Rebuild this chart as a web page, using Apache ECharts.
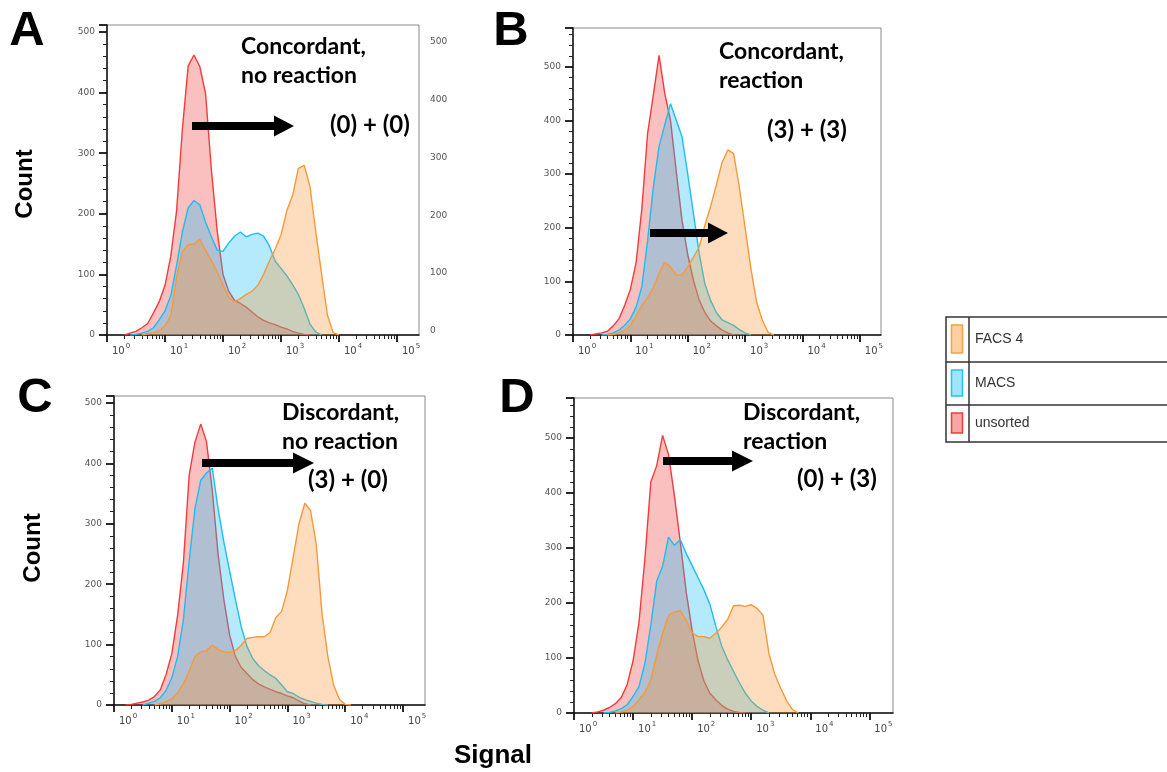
<!DOCTYPE html>
<html><head><meta charset="utf-8">
<script src="https://cdn.jsdelivr.net/npm/echarts@6/dist/echarts.min.js"></script>
<style>html,body{margin:0;padding:0;background:#fff}#c{width:1167px;height:772px}</style>
</head><body><div id="c"></div>
<script>
// ---------------- DATA ----------------
// x positions: log10(Signal)
const logSignal = [0.2,0.3,0.4,0.5,0.6,0.7,0.8,0.9,1.0,1.1,1.2,1.3,1.4,1.5,1.6,1.7,1.8,1.9,2.0,2.1,2.2,2.3,2.4,2.5,2.6,2.7,2.8,2.9,3.0,3.1,3.2,3.3,3.4,3.5,3.6,3.7,3.8,3.9,4.0,4.1,4.2];
const seriesNames = ['unsorted', 'MACS', 'FACS 4'];
const legendOrder = ['FACS 4', 'MACS', 'unsorted'];

const unsortedA = [0,0,3,6,12,19,36,55,82,130,205,340,444,462,443,398,272,172,100,72,57,52,46,38,30,24,20,17,13,10,6,3,1,0,0,0,0,0,0,0,0];
const macsA     = [0,0,0,1,3,6,12,25,40,65,115,170,210,222,215,186,162,140,138,152,163,170,162,166,168,163,147,122,110,98,83,67,44,18,5,0,0,0,0,0,0];
const facsA     = [0,0,0,0,0,2,4,7,15,32,95,138,149,150,158,140,122,105,82,62,55,60,67,72,82,100,122,142,165,205,230,275,280,245,170,101,33,4,0,0,0];

const unsortedB = [0,0,2,4,7,17,30,55,85,135,235,375,447,521,450,400,305,214,150,102,65,42,26,17,9,4,0,0,0,0,0,0,0,0,0,0,0,0,0,0,0];
const macsB     = [0,0,0,0,1,4,9,18,30,52,90,175,275,351,392,431,400,370,300,226,152,95,64,42,28,23,18,10,4,0,0,0,0,0,0,0,0,0,0,0,0];
const facsB     = [0,0,0,0,0,1,4,9,18,35,55,70,88,115,136,127,112,112,127,145,164,205,240,280,322,345,338,275,200,125,62,28,5,0,0,0,0,0,0,0,0];

const unsortedC = [0,1,3,5,8,14,25,50,85,148,235,380,435,465,436,355,250,175,116,80,62,52,42,35,30,26,22,19,15,12,7,2,0,0,0,0,0,0,0,0,0];
const macsC     = [0,0,0,0,3,6,12,24,45,80,141,238,325,372,384,392,325,270,222,175,130,97,77,65,57,50,44,33,22,19,13,9,6,3,1,0,0,0,0,0,0];
const facsC     = [0,0,0,0,0,0,2,5,10,20,35,56,80,88,90,99,92,88,87,90,99,110,112,113,113,120,145,155,190,245,300,334,322,265,150,80,33,9,1,0,0];

const unsortedD = [0,0,2,5,10,17,28,52,95,165,280,420,450,505,470,395,310,220,150,95,58,36,24,14,7,3,1,0,0,0,0,0,0,0,0,0,0,0,0,0,0];
const macsD     = [0,0,0,0,1,4,8,15,30,48,90,160,240,267,320,305,315,290,268,246,224,198,158,122,97,76,55,36,22,12,5,0,0,0,0,0,0,0,0,0,0];
const facsD     = [0,0,0,0,0,0,2,5,12,24,37,60,105,145,178,184,186,168,146,139,139,136,145,156,170,195,196,194,197,190,178,108,70,45,22,6,0,0,0,0,0];

const xTickExponents = [0,1,2,3,4,5];
const yTickValues = [0,100,200,300,400,500];
const panelLetters = ['A','B','C','D'];
const panelTitles = ['Concordant,\nno reaction','Concordant,\nreaction','Discordant,\nno reaction','Discordant,\nreaction'];
const panelScores = ['(0) + (0)','(3) + (3)','(3) + (0)','(0) + (3)'];
const yAxisTitle = 'Count';
const xAxisTitle = 'Signal';

const panelData = [
  [unsortedA, macsA, facsA],
  [unsortedB, macsB, facsB],
  [unsortedC, macsC, facsC],
  [unsortedD, macsD, facsD]
];

// ---------------- LAYOUT / STYLE ----------------
const layout = [
  {left:107, top:25,  width:312, height:310, yMax:511.5, xMax:5.38},
  {left:573, top:28,  width:308, height:307, yMax:572,   xMax:5.37},
  {left:114, top:396, width:311, height:309, yMax:511.5, xMax:5.38},
  {left:574, top:398, width:319, height:315, yMax:573,   xMax:5.40}
];
const lineColors = ['#f03c3c', '#1ebdf0', '#f59a3c'];
const fillColors = ['rgba(240,50,50,0.44)', 'rgba(20,190,245,0.45)', 'rgba(250,150,50,0.46)'];
const legendFill = {'FACS 4':'#fdd0a2', 'MACS':'#9fe6fb', 'unsorted':'#f9a6a6'};
const legendLine = {'FACS 4':'#f5a040', 'MACS':'#22c2f2', 'unsorted':'#f03c3c'};

const minorLog = [];
for (let n = 0; n < 5; n++) for (let k = 2; k <= 9; k++) minorLog.push(n + Math.log10(k));

function trimZeros(arr) {
  const pts = [];
  arr.forEach((v, i) => {
    const prev = i > 0 ? arr[i-1] : 0, next = i < arr.length-1 ? arr[i+1] : 0;
    if (!(v === 0 && prev === 0 && next === 0)) pts.push([logSignal[i], v]);
  });
  return pts;
}

const grids = [], xAxes = [], yAxes = [], series = [];
layout.forEach((L, p) => {
  grids.push({left:L.left, top:L.top, width:L.width, height:L.height, show:true, borderColor:'#8a8a8a', borderWidth:1, backgroundColor:'#fff'});
  xAxes.push({
    gridIndex:p, type:'value', position:'bottom', min:0, max:L.xMax,
    axisLine:{show:true, onZero:false, lineStyle:{color:'#111', width:1.5}},
    axisTick:{show:true, customValues:xTickExponents, length:7, lineStyle:{color:'#111', width:1.8}},
    axisLabel:{customValues:xTickExponents, align:'left', margin:8, padding:[0,0,0,5],
      formatter: v => '{b|10}{s|' + Math.round(v) + '}',
      rich:{b:{fontSize:10, color:'#444', fontFamily:'DejaVu Sans'}, s:{fontSize:7, color:'#444', fontFamily:'DejaVu Sans', padding:[0,0,9,1]}}},
    splitLine:{show:false}
  });
  xAxes.push({
    gridIndex:p, type:'value', position:'bottom', min:0, max:L.xMax,
    axisLine:{show:false, onZero:false},
    axisTick:{show:true, customValues:minorLog, length:4, lineStyle:{color:'#222', width:1}},
    axisLabel:{show:false}, splitLine:{show:false}
  });
  yAxes.push({
    gridIndex:p, type:'value', position:'left', min:0, max:L.yMax, interval:100,
    axisLine:{show:true, lineStyle:{color:'#111', width:1.5}},
    axisTick:{show:true, length:8, lineStyle:{color:'#111', width:1.8}},
    minorTick:{show:true, splitNumber:5, length:4, lineStyle:{color:'#222', width:1}},
    axisLabel:{showMaxLabel:false, fontSize:9, color:'#555', margin:12, fontFamily:'DejaVu Sans'},
    splitLine:{show:false}, minorSplitLine:{show:false}
  });
});
// secondary (misaligned) right axis of panel A
yAxes.push({
  gridIndex:0, type:'value', position:'right', min:-7, max:529,
  axisLine:{show:false}, axisTick:{show:false}, splitLine:{show:false},
  axisLabel:{customValues:yTickValues, fontSize:9, color:'#555', margin:11, fontFamily:'DejaVu Sans'}
});

panelData.forEach((sets, p) => {
  sets.forEach((arr, s) => {
    series.push({
      type:'line', name:seriesNames[s], xAxisIndex:2*p, yAxisIndex:p,
      data:trimZeros(arr), showSymbol:false, symbol:'none', smooth:false,
      lineStyle:{color:lineColors[s], width:1.4},
      areaStyle:{color:fillColors[s], origin:'start'},
      z:2+s, silent:true, animation:false
    });
  });
});

// ---------------- GRAPHIC ANNOTATIONS ----------------
const letterPos = [[27,31],[511,31],[35,398],[517,398]];
const titlePos = [[241,32],[719,37],[282,398],[743,398]];
const scorePos = [[330,125],[767,130],[308,480],[797,479]];
const arrowPos = [ // x start, head start, tip, y
  [192,274,294,126],[650,708,728,233],[202,293,314,463],[663,732,753,461]
];
const graphic = [];
panelLetters.forEach((t, i) => {
  graphic.push({type:'text', z:10,
    style:{text:t, x:letterPos[i][0], y:letterPos[i][1], align:'center', verticalAlign:'middle',
      font:'bold 49px "Liberation Sans", Arial, sans-serif', fill:'#000'}});
});
panelTitles.forEach((t, i) => {
  graphic.push({type:'text', z:10, style:{text:t, x:titlePos[i][0], y:titlePos[i][1], align:'left', verticalAlign:'top',
    font:'bold 23px Lato, "Open Sans", sans-serif', lineHeight:29, fill:'#000'}});
});
panelScores.forEach((t, i) => {
  graphic.push({type:'text', z:10, style:{text:t, x:scorePos[i][0], y:scorePos[i][1], align:'left', verticalAlign:'middle',
    font:'bold 24px Lato, "Open Sans", sans-serif', fill:'#000'}});
});
arrowPos.forEach(a => {
  const [x1, hx, tip, y] = a;
  graphic.push({type:'polygon', z:10, shape:{points:[[x1,y-4],[hx,y-4],[hx,y-10.5],[tip,y],[hx,y+10.5],[hx,y+4],[x1,y+4]]},
    style:{fill:'#000'}});
});
[[25,184],[33,548]].forEach(c => {
  graphic.push({type:'text', z:10, x:c[0], y:c[1], rotation:Math.PI/2,
    style:{text:yAxisTitle, x:0, y:0, align:'center', verticalAlign:'middle', font:'bold 24px "Liberation Sans", Arial, sans-serif', fill:'#000'}});
});
graphic.push({type:'text', z:10, style:{text:xAxisTitle, x:493, y:756, align:'center', verticalAlign:'middle',
  font:'bold 26px "Liberation Sans", Arial, sans-serif', fill:'#000'}});

// legend table
const lgX = 946, lgTop = 317, rowYs = [317, 362, 405, 442];
graphic.push({type:'rect', z:10, shape:{x:lgX, y:lgTop, width:240, height:rowYs[3]-lgTop}, style:{fill:'#fff', stroke:'#333', lineWidth:1.5}});
graphic.push({type:'line', z:11, shape:{x1:969, y1:lgTop, x2:969, y2:rowYs[3]}, style:{stroke:'#333', lineWidth:1.5}});
[1,2].forEach(r => graphic.push({type:'line', z:11, shape:{x1:lgX, y1:rowYs[r], x2:1167, y2:rowYs[r]}, style:{stroke:'#333', lineWidth:1.5}}));
legendOrder.forEach((name, r) => {
  const y0 = rowYs[r], y1 = rowYs[r+1];
  graphic.push({type:'rect', z:11, shape:{x:951.5, y:y0+8, width:11, height:(y1-y0)-17}, style:{fill:legendFill[name], stroke:legendLine[name], lineWidth:1.5}});
  graphic.push({type:'text', z:11, style:{text:name, x:975, y:(y0+y1)/2, align:'left', verticalAlign:'middle',
    font:'14px "Liberation Sans", Arial, sans-serif', fill:'#333'}});
});

const chart = echarts.init(document.getElementById('c'), null, {renderer:'canvas'});
chart.setOption({
  animation:false, backgroundColor:'#fff',
  textStyle:{fontFamily:'"Liberation Sans", Arial, sans-serif'},
  grid:grids, xAxis:xAxes, yAxis:yAxes, series:series, graphic:graphic
});
</script></body></html>
